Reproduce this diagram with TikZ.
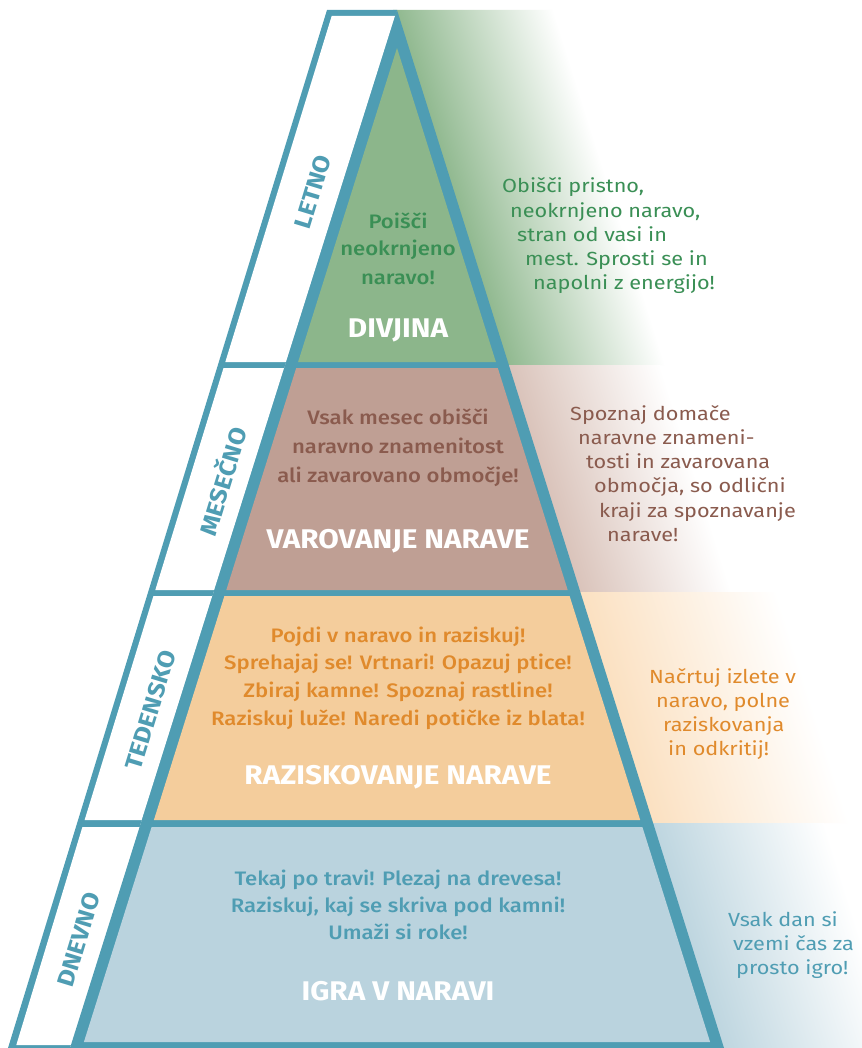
\documentclass[tikz,border=0pt]{standalone}
\usepackage{fontspec}
\setmainfont{Fira Sans}[FakeStretch=1.14]
\newfontfamily\medfont{Fira Sans Medium}[FakeStretch=1.135]
\newfontfamily\boldfont{Fira Sans Bold}[FakeStretch=1.1]
\definecolor{pteal}{HTML}{4F9DB3}
\definecolor{tgreen}{HTML}{8CB68B}
\definecolor{tbrown}{HTML}{BF9F94}
\definecolor{torange}{HTML}{F4CD9C}
\definecolor{tblue}{HTML}{BAD3DE}
\definecolor{ggreen}{HTML}{8FB88E}
\definecolor{gbrown}{HTML}{D9C2B9}
\definecolor{gorange}{HTML}{FBE0C0}
\definecolor{gblue}{HTML}{BDD5DF}
\definecolor{xgreen}{HTML}{3A8F55}
\definecolor{xbrown}{HTML}{8A5B4E}
\definecolor{xorange}{HTML}{E08A2C}
\definecolor{xblue}{HTML}{4F9DB3}
\begin{document}
\begin{tikzpicture}[x=1pt,y=-1pt,
  tiertext/.style={anchor=base, inner sep=0pt, font=\medfont\fontsize{19.5}{19.5}\selectfont},
  tiertitle/.style={anchor=base, inner sep=0pt, text=white, font=\boldfont\fontsize{27}{27}\selectfont},
  sidetext/.style={anchor=base west, inner sep=0pt, font=\fontsize{19}{19}\selectfont},
  bandlabel/.style={rotate=73, inner sep=0pt, text=pteal, font=\boldfont\fontsize{23.5}{23.5}\selectfont}]
\useasboundingbox (0,0) rectangle (861,1048);
\fill[white] (0,0) rectangle (861,1048);
% gradients to the right of the pyramid
\begin{scope}[transform canvas={xslant=-0.315}]
  \shade[left color=ggreen, right color=white] (390,10) rectangle (550,365);
  \shade[left color=gbrown, right color=white] (390,365) rectangle (545,592);
  \shade[left color=gorange, right color=white] (390,592) rectangle (590,823);
  \shade[left color=gblue, right color=white] (390,823) rectangle (565,1048);
\end{scope}
% band
\fill[pteal] (327,10) -- (397,10) -- (70,1048) -- (8,1048) -- cycle;
\fill[white] (331.7,16) -- (395.1,16) -- (286.1,362) -- (225.3,362) -- cycle;
\fill[white] (223.5,368) -- (284.2,368) -- (214.3,590) -- (155.3,590) -- cycle;
\fill[white] (153.4,596) -- (212.4,596) -- (141.8,820) -- (84.6,820) -- cycle;
\fill[white] (82.4,827) -- (139.7,827) -- (71.9,1045) -- (16.3,1045) -- cycle;
% pyramid
\fill[pteal] (397,10) -- (724,1048) -- (70,1048) -- cycle;
\fill[tgreen] (397,48) -- (495.9,362) -- (298.1,362) -- cycle;
\fill[tbrown] (296.2,368) -- (497.8,368) -- (567.7,590) -- (226.3,590) -- cycle;
\fill[torange] (224.4,596) -- (569.6,596) -- (640.2,820) -- (153.9,820) -- cycle;
\fill[tblue] (151.6,827) -- (642.4,827) -- (710.1,1042) -- (83.9,1042) -- cycle;
% band labels
\node[bandlabel] (letno) at (313,192) {LETNO};
\node[bandlabel] (mesecno) at (221,481) {MESEČNO};
\node[bandlabel] (tedensko) at (151,710) {TEDENSKO};
\node[bandlabel] (dnevno) at (79,940) {DNEVNO};
% green tier
\node[tiertext, text=xgreen] (g1) at (398,229) {Poišči};
\node[tiertext, text=xgreen] (g2) at (398,256) {neokrnjeno};
\node[tiertext, text=xgreen] (g3) at (398,284) {naravo!};
\node[tiertitle] (gt) at (398,337) {DIVJINA};
% brown tier
\node[tiertext, text=xbrown] (b1) at (398,424) {Vsak mesec obišči};
\node[tiertext, text=xbrown] (b2) at (398,453) {naravno znamenitost};
\node[tiertext, text=xbrown] (b3) at (398,482) {ali zavarovano območje!};
\node[tiertitle] (bt) at (398,548) {VAROVANJE NARAVE};
% orange tier
\node[tiertext, text=xorange] (o1) at (398,642) {Pojdi v naravo in raziskuj!};
\node[tiertext, text=xorange] (o2) at (398,669) {Sprehajaj se! Vrtnari! Opazuj ptice!};
\node[tiertext, text=xorange] (o3) at (398,697) {Zbiraj kamne! Spoznaj rastline!};
\node[tiertext, text=xorange] (o4) at (398,725) {Raziskuj luže! Naredi potičke iz blata!};
\node[tiertitle] (ot) at (398,784) {RAZISKOVANJE NARAVE};
% blue tier
\node[tiertext, text=xblue] (u1) at (398,885) {Tekaj po travi! Plezaj na drevesa!};
\node[tiertext, text=xblue] (u2) at (398,912) {Raziskuj, kaj se skriva pod kamni!};
\node[tiertext, text=xblue] (u3) at (398,939) {Umaži si roke!};
\node[tiertitle] (ut) at (398,1000) {IGRA V NARAVI};
% side texts
\node[sidetext, text=xgreen] (sg1) at (502,193) {Obišči pristno,};
\node[sidetext, text=xgreen] (sg2) at (510,218) {neokrnjeno naravo,};
\node[sidetext, text=xgreen] (sg3) at (517,242) {stran od vasi in};
\node[sidetext, text=xgreen] (sg4) at (525,266) {mest. Sprosti se in};
\node[sidetext, text=xgreen] (sg5) at (533,290) {napolni z energijo!};
\node[sidetext, text=xbrown] (sb1) at (570,420) {Spoznaj domače};
\node[sidetext, text=xbrown] (sb2) at (578,444) {naravne znameni-};
\node[sidetext, text=xbrown] (sb3) at (586,468) {tosti in zavarovana};
\node[sidetext, text=xbrown] (sb4) at (594,492) {območja, so odlični};
\node[sidetext, text=xbrown] (sb5) at (599,517) {kraji za spoznavanje};
\node[sidetext, text=xbrown] (sb6) at (607,541) {narave!};
\node[sidetext, text=xorange] (so1) at (649,683) {Načrtuj izlete v};
\node[sidetext, text=xorange] (so2) at (656,707) {naravo, polne};
\node[sidetext, text=xorange] (so3) at (663,731) {raziskovanja};
\node[sidetext, text=xorange] (so4) at (668,755) {in odkritij!};
\node[sidetext, text=xblue] (su1) at (728,926) {Vsak dan si};
\node[sidetext, text=xblue] (su2) at (733,950) {vzemi čas za};
\node[sidetext, text=xblue] (su3) at (736,974) {prosto igro!};
\end{tikzpicture}
\end{document}
